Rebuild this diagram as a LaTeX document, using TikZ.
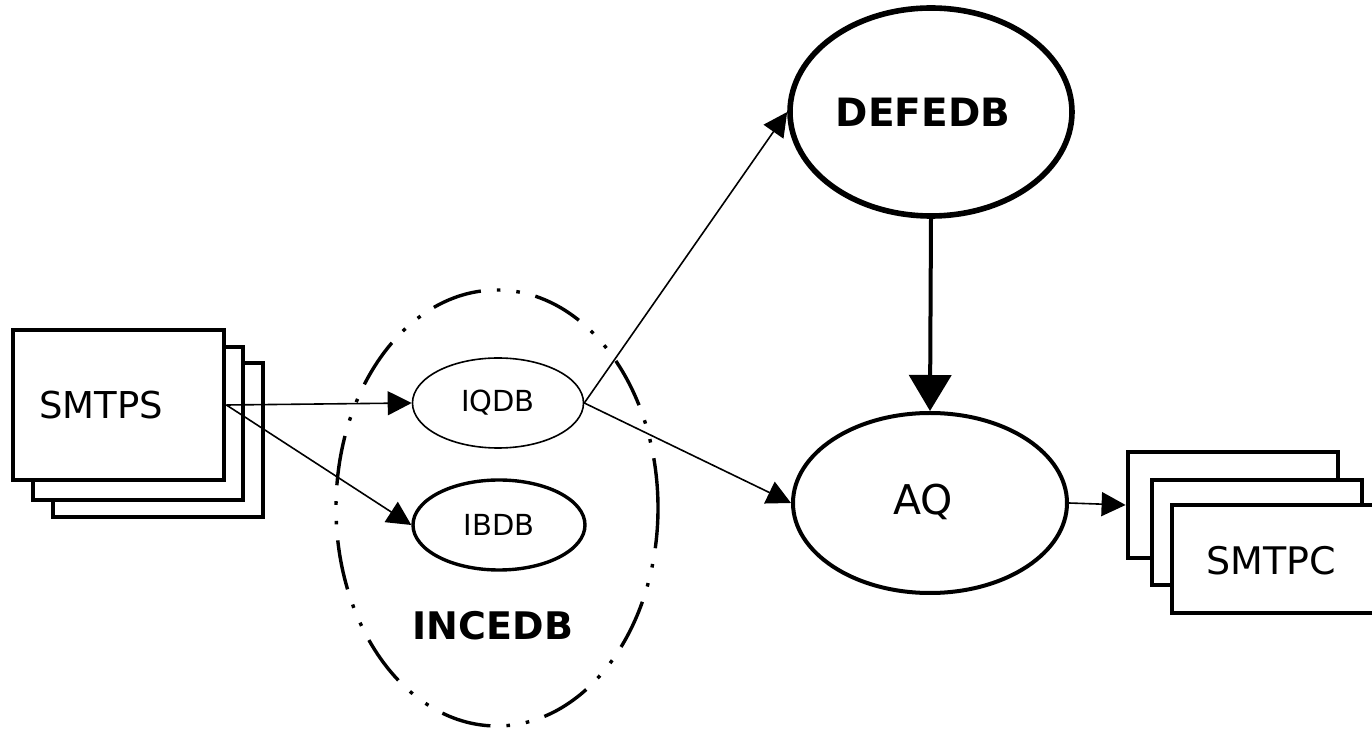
\documentclass[tikz,border=0pt]{standalone}
\usepackage{fontspec}
\setmainfont{DejaVu Sans}
\usetikzlibrary{shapes.geometric,arrows.meta}
\tikzset{
  pagebox/.style={draw=black, fill=white, line width=2.4pt, rectangle, inner sep=0pt},
  dbell/.style={draw=black, fill=white, ellipse, inner sep=0pt},
  thinarrow/.style={draw=black, line width=0.8pt, -{Triangle[length=12pt,width=12pt]}},
  bigarrow/.style={draw=black, line width=2pt, -{Triangle[length=18pt,width=21pt]}},
  groupell/.style={draw=black, ellipse, inner sep=0pt, line width=1.7pt,
    dash pattern=on 25pt off 8pt on 1.8pt off 8pt on 1.8pt off 8pt},
  smalltxt/.style={font=\fontsize{14.5}{17}\selectfont},
  midtxt/.style={font=\fontsize{18.5}{22}\selectfont},
  boldtxt/.style={font=\fontsize{19.5}{23}\selectfont\bfseries},
}
\begin{document}
\begin{tikzpicture}[x=0.5pt,y=-0.5pt]
\useasboundingbox[fill=white] (0,0) rectangle (1372,732);
% SMTPS stack
\node[pagebox, minimum width=105pt, minimum height=77pt] (smtpsc) at (158,440) {};
\node[pagebox, minimum width=105pt, minimum height=76.5pt] (smtpsb) at (138,423.5) {};
\node[pagebox, minimum width=105.5pt, minimum height=75pt] (smtps) at (118.5,405) {};
\node[midtxt] (smtpstxt) at (101,405) {SMTPS};
% INCEDB group
\node[groupell, minimum width=161pt, minimum height=218pt] (incedb) at (497,508) {};
\node[boldtxt, font=\fontsize{19}{23}\selectfont\bfseries] (incedbtxt) at (493,626) {INCEDB};
\node[dbell, line width=0.8pt, minimum width=85.5pt, minimum height=45pt, smalltxt] (iqdb) at (498,403) {IQDB};
\node[dbell, line width=1.7pt, minimum width=86pt, minimum height=45pt, smalltxt] (ibdb) at (499,525) {IBDB};
% DEFEDB and AQ
\node[dbell, line width=2.8pt, minimum width=141pt, minimum height=104pt] (defedb) at (931,112) {};
\node[boldtxt] (defedbtxt) at (923,112) {DEFEDB};
\node[dbell, line width=2pt, minimum width=137pt, minimum height=90pt] (aq) at (930,503) {};
\node[font=\fontsize{20.5}{24}\selectfont] (aqtxt) at (923,502) {AQ};
% SMTPC stack
\node[pagebox, minimum width=105pt, minimum height=53pt] (smtpca) at (1233,505) {};
\node[pagebox, minimum width=105pt, minimum height=52.5pt] (smtpcb) at (1257,532.5) {};
\node[pagebox, minimum width=105pt, minimum height=54pt] (smtpc) at (1277,559) {};
\node[midtxt, font=\fontsize{19}{22}\selectfont] (smtpctxt) at (1271,561) {SMTPC};
% connectors
\draw[thinarrow] (smtps.east) -- (iqdb.west);
\draw[thinarrow] (smtps.east) -- (ibdb.west);
\draw[thinarrow] (iqdb.east) -- (defedb.west);
\draw[thinarrow] (iqdb.east) -- (aq.west);
\draw[bigarrow] (defedb.south) -- (aq.north);
\draw[thinarrow] (aq.east) -- (smtpca.west);
\end{tikzpicture}
\end{document}
